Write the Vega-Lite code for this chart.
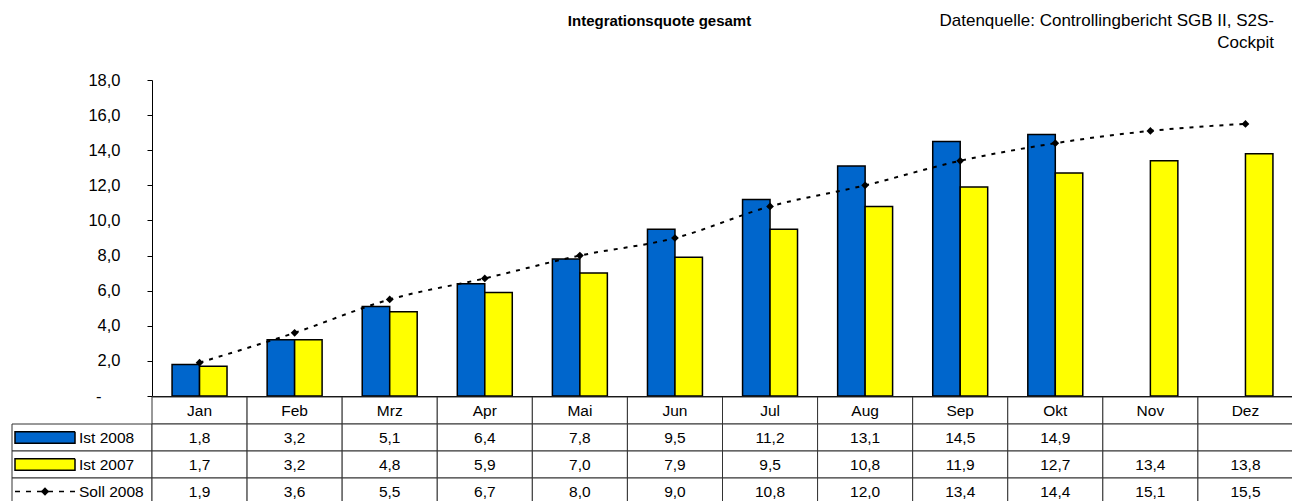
{
  "$schema": "https://vega.github.io/schema/vega-lite/v6.json",
  "padding": {"left": 11, "top": 12, "right": 0, "bottom": 0},
  "background": "white",
  "config": {
    "font": "Liberation Sans",
    "view": {"stroke": null},
    "locale": {"number": {"decimal": ",", "thousands": ".", "grouping": [3], "currency": ["", " €"]}}
  },
  "title": {"text": "Integrationsquote gesamt", "anchor": "middle", "fontSize": 15, "fontWeight": "bold", "color": "black", "offset": -17, "dx": 7},
  "datasets": {
    "vals": [
      {"month": "Jan", "series": "Ist 2008", "value": 1.8},
      {"month": "Feb", "series": "Ist 2008", "value": 3.2},
      {"month": "Mrz", "series": "Ist 2008", "value": 5.1},
      {"month": "Apr", "series": "Ist 2008", "value": 6.4},
      {"month": "Mai", "series": "Ist 2008", "value": 7.8},
      {"month": "Jun", "series": "Ist 2008", "value": 9.5},
      {"month": "Jul", "series": "Ist 2008", "value": 11.2},
      {"month": "Aug", "series": "Ist 2008", "value": 13.1},
      {"month": "Sep", "series": "Ist 2008", "value": 14.5},
      {"month": "Okt", "series": "Ist 2008", "value": 14.9},
      {"month": "Nov", "series": "Ist 2008", "value": null},
      {"month": "Dez", "series": "Ist 2008", "value": null},
      {"month": "Jan", "series": "Ist 2007", "value": 1.7},
      {"month": "Feb", "series": "Ist 2007", "value": 3.2},
      {"month": "Mrz", "series": "Ist 2007", "value": 4.8},
      {"month": "Apr", "series": "Ist 2007", "value": 5.9},
      {"month": "Mai", "series": "Ist 2007", "value": 7.0},
      {"month": "Jun", "series": "Ist 2007", "value": 7.9},
      {"month": "Jul", "series": "Ist 2007", "value": 9.5},
      {"month": "Aug", "series": "Ist 2007", "value": 10.8},
      {"month": "Sep", "series": "Ist 2007", "value": 11.9},
      {"month": "Okt", "series": "Ist 2007", "value": 12.7},
      {"month": "Nov", "series": "Ist 2007", "value": 13.4},
      {"month": "Dez", "series": "Ist 2007", "value": 13.8},
      {"month": "Jan", "series": "Soll 2008", "value": 1.9},
      {"month": "Feb", "series": "Soll 2008", "value": 3.6},
      {"month": "Mrz", "series": "Soll 2008", "value": 5.5},
      {"month": "Apr", "series": "Soll 2008", "value": 6.7},
      {"month": "Mai", "series": "Soll 2008", "value": 8.0},
      {"month": "Jun", "series": "Soll 2008", "value": 9.0},
      {"month": "Jul", "series": "Soll 2008", "value": 10.8},
      {"month": "Aug", "series": "Soll 2008", "value": 12.0},
      {"month": "Sep", "series": "Soll 2008", "value": 13.4},
      {"month": "Okt", "series": "Soll 2008", "value": 14.4},
      {"month": "Nov", "series": "Soll 2008", "value": 15.1},
      {"month": "Dez", "series": "Soll 2008", "value": 15.5}
    ]
  },
  "data": {"name": "vals"},
  "spacing": -9,
  "columns": 1,
  "align": "none",
  "resolve": {"scale": {"x": "independent", "y": "independent", "fill": "independent", "shape": "independent", "strokeDash": "independent", "strokeWidth": "independent"}},
  "concat": [
    {
      "width": 1281,
      "height": 316,
      "title": {"text": ["Datenquelle: Controllingbericht SGB II, S2S-", "Cockpit"], "anchor": "end", "align": "right", "fontSize": 17, "fontWeight": "normal", "color": "black", "lineHeight": 22, "offset": 20, "dx": -19},
      "encoding": {
        "x": {"field": "month", "type": "nominal", "sort": ["Jan","Feb","Mrz","Apr","Mai","Jun","Jul","Aug","Sep","Okt","Nov","Dez"], "scale": {"range": [140, 1281], "paddingInner": 0, "paddingOuter": 0}, "axis": {"labels": false, "ticks": false, "title": null, "domain": true, "domainColor": "black", "domainWidth": 1, "minExtent": 0, "maxExtent": 0}},
        "y": {"field": "value", "type": "quantitative", "scale": {"domain": [0, 18], "nice": false},
          "axis": {"title": null, "grid": false, "values": [0,2,4,6,8,10,12,14,16,18], "format": ".1f",
            "labelExpr": "datum.value == 0 ? '-' : datum.label",
            "labelOverlap": false,
            "labelFontSize": 16.5, "labelColor": "black",
            "labelPadding": {"condition": {"test": "datum.value == 0", "value": 46}, "value": 27},
            "tickSize": 5, "tickColor": "black", "domainColor": "black", "offset": -140}}
      },
      "layer": [
        {
          "transform": [{"filter": "datum.series != 'Soll 2008'"}],
          "mark": {"type": "bar", "stroke": "black", "strokeWidth": 1.5},
          "encoding": {
            "xOffset": {"field": "series", "type": "nominal", "sort": ["Ist 2008", "Ist 2007"], "scale": {"paddingInner": 0, "paddingOuter": 0.73}},
            "fill": {"field": "series", "type": "nominal", "scale": {"domain": ["Ist 2008", "Ist 2007"], "range": ["#0066cc", "#ffff00"]}, "legend": null}
          }
        },
        {
          "transform": [{"filter": "datum.series == 'Soll 2008'"}],
          "mark": {"type": "line", "stroke": "black", "strokeWidth": 2, "strokeDash": [4, 6], "interpolate": "monotone"},
          "encoding": {}
        },
        {
          "transform": [{"filter": "datum.series == 'Soll 2008'"}],
          "mark": {"type": "point", "shape": "diamond", "filled": true, "color": "black", "opacity": 1, "size": 60},
          "encoding": {}
        }
      ]
    },
    {
      "spacing": 0,
      "bounds": "flush",
      "resolve": {"scale": {"x": "independent", "y": "independent", "fill": "independent", "shape": "independent", "strokeDash": "independent", "strokeWidth": "independent"}},
      "hconcat": [
        {
          "width": 140,
          "height": 108,
          "transform": [{"filter": "datum.month == 'Jan'"}],
          "encoding": {
            "y": {"field": "series", "type": "nominal", "scale": {"domain": ["Monat", "Ist 2008", "Ist 2007", "Soll 2008"], "paddingInner": 0, "paddingOuter": 0}, "axis": null}
          },
          "layer": [
            {
              "mark": {"type": "rect", "fill": "white", "stroke": "#333", "strokeWidth": 1},
              "encoding": {}
            },
            {
              "mark": {"type": "point", "filled": true, "stroke": "black", "opacity": 1, "size": 3600},
              "encoding": {
                "x": {"datum": "symbol", "type": "nominal", "scale": {"type": "point", "domain": ["symbol", "label"], "range": [33, 67], "padding": 0}, "axis": null},
                "shape": {"field": "series", "type": "nominal", "scale": {"domain": ["Ist 2008", "Ist 2007", "Soll 2008"], "range": ["M-1,-0.19H1V0.19H-1Z", "M-1,-0.19H1V0.19H-1Z", "M-1,0H1"]}, "legend": null},
                "fill": {"field": "series", "type": "nominal", "scale": {"domain": ["Ist 2008", "Ist 2007", "Soll 2008"], "range": ["#0066cc", "#ffff00", "transparent"]}, "legend": null},
                "strokeDash": {"field": "series", "type": "nominal", "scale": {"domain": ["Ist 2008", "Ist 2007", "Soll 2008"], "range": [[1, 0], [1, 0], [5, 6]]}, "legend": null},
                "strokeWidth": {"field": "series", "type": "nominal", "scale": {"domain": ["Ist 2008", "Ist 2007", "Soll 2008"], "range": [1.5, 1.5, 2]}, "legend": null}
              }
            },
            {
              "transform": [{"filter": "datum.series == 'Soll 2008'"}],
              "mark": {"type": "point", "shape": "diamond", "filled": true, "color": "black", "opacity": 1, "size": 70},
              "encoding": {
                "x": {"datum": "symbol", "type": "nominal", "axis": null}
              }
            },
            {
              "mark": {"type": "text", "align": "left", "baseline": "middle", "fontSize": 15.5, "color": "black"},
              "encoding": {
                "x": {"datum": "label", "type": "nominal", "axis": null},
                "text": {"field": "series", "type": "nominal"}
              }
            }
          ]
        },
        {
          "width": 1141,
          "height": 108,
          "encoding": {
            "x": {"field": "month", "type": "nominal", "sort": ["Jan","Feb","Mrz","Apr","Mai","Jun","Jul","Aug","Sep","Okt","Nov","Dez"], "scale": {"paddingInner": 0, "paddingOuter": 0}, "axis": null}
          },
          "layer": [
            {
              "transform": [{"filter": "datum.series == 'Ist 2008'"}],
              "mark": {"type": "rect", "fill": "white", "stroke": "#333", "strokeWidth": 1},
              "encoding": {
                "y": {"datum": "Monat", "type": "nominal", "scale": {"domain": ["Monat", "Ist 2008", "Ist 2007", "Soll 2008"], "paddingInner": 0, "paddingOuter": 0}, "axis": null}
              }
            },
            {
              "mark": {"type": "rect", "fill": "white", "stroke": "#333", "strokeWidth": 1},
              "encoding": {
                "y": {"field": "series", "type": "nominal", "axis": null}
              }
            },
            {
              "transform": [{"filter": "datum.series == 'Ist 2008'"}],
              "mark": {"type": "text", "baseline": "middle", "fontSize": 15.5, "color": "black"},
              "encoding": {
                "y": {"datum": "Monat", "type": "nominal", "axis": null},
                "text": {"field": "month", "type": "nominal"}
              }
            },
            {
              "transform": [{"filter": "isValid(datum.value)"}],
              "mark": {"type": "text", "baseline": "middle", "fontSize": 15.5, "color": "black"},
              "encoding": {
                "y": {"field": "series", "type": "nominal", "axis": null},
                "text": {"field": "value", "type": "quantitative", "format": ".1f"}
              }
            }
          ]
        }
      ]
    }
  ]
}
